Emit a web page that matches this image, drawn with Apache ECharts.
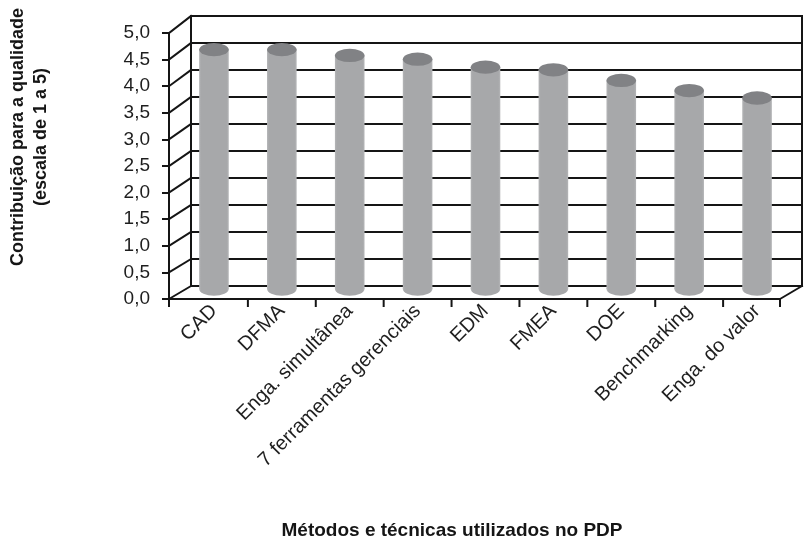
<!DOCTYPE html>
<html>
<head>
<meta charset="utf-8">
<script src="https://cdn.jsdelivr.net/npm/echarts@6/dist/echarts.min.js"></script>
<style>
  html, body { margin: 0; padding: 0; background: #ffffff; }
  #chart { width: 806px; height: 551px; }
</style>
</head>
<body>
<div id="chart"></div>
<script>
// Categories and their average contribution to quality (scale 1 to 5)
const categories = [
  'CAD', 'DFMA', 'Enga. simultânea', '7 ferramentas gerenciais',
  'EDM', 'FMEA', 'DOE', 'Benchmarking', 'Enga. do valor'
];
const contribution = [4.50, 4.50, 4.39, 4.32, 4.17, 4.12, 3.92, 3.73, 3.59];

// Value axis ticks
const yMin = 0;
const yMax = 5;
const yStep = 0.5;
const yTickValues = [0, 0.5, 1, 1.5, 2, 2.5, 3, 3.5, 4, 4.5, 5];

const yTitle = 'Contribuição para a qualidade\n(escala de 1 a 5)';
const xTitle = 'Métodos e técnicas utilizados no PDP';

// Oblique 3D box: the grid is the plane through the cylinder axes,
// the front plane sits HALF_DX to the left, the back wall HALF_DX to the right.
const HALF_DX = 11;
const BACK_DY = -13;      // back wall floor line relative to the front floor line
const BACK_SCALE = 1.015; // back wall is marginally taller (perspective)
const CYL_DY = -10;       // cylinder bases sit behind the front edge
const LINE = '#151515';
const FONT = '"Liberation Sans", Arial, Helvetica, sans-serif';
const NARROW = '"Liberation Sans Narrow", "Arial Narrow", "Liberation Sans", Arial, sans-serif';

const chart = echarts.init(document.getElementById('chart'), null, { renderer: 'canvas' });

function fy(api, v) { return api.coord([0, v])[1]; }
function by(api, v) {
  const f0 = fy(api, 0);
  return f0 + BACK_DY - (f0 - fy(api, v)) * BACK_SCALE;
}
function bandEdges(api) {
  const bw = api.size([1, 0])[0];
  const left = api.coord([0, 0])[0] - bw / 2;
  const edges = [];
  for (let k = 0; k <= categories.length; k++) edges.push(left + k * bw);
  return edges;
}
function seg(x1, y1, x2, y2, w) {
  return {
    type: 'line',
    shape: { x1: x1, y1: y1, x2: x2, y2: y2 },
    style: { stroke: LINE, lineWidth: w || 2, lineCap: 'square' }
  };
}

// Back wall, its grid lines and the left-side diagonals
function renderBackFrame(params, api) {
  const edges = bandEdges(api);
  const fxL = edges[0] - HALF_DX;
  const fxR = edges[edges.length - 1] - HALF_DX;
  const bxL = edges[0] + HALF_DX;
  const bxR = edges[edges.length - 1] + HALF_DX;
  const children = [];
  yTickValues.forEach(function (v) {
    children.push(seg(bxL, by(api, v), bxR, by(api, v)));
    children.push(seg(fxL, fy(api, v), bxL, by(api, v)));
  });
  children.push(seg(bxL, by(api, yMin), bxL, by(api, yMax)));
  children.push(seg(bxR, by(api, yMin), bxR, by(api, yMax)));
  children.push(seg(fxR, fy(api, yMin), bxR, by(api, yMin)));
  return { type: 'group', children: children };
}

// Front floor edge with its tick marks
function renderFrontFrame(params, api) {
  const edges = bandEdges(api);
  const fxL = edges[0] - HALF_DX;
  const fxR = edges[edges.length - 1] - HALF_DX;
  const y0 = fy(api, yMin);
  const children = [seg(fxL, y0, fxR, y0)];
  const tickXs = [fxL].concat(edges.slice(1, edges.length - 1), [fxR]);
  tickXs.forEach(function (x) { children.push(seg(x, y0, x, y0 + 7)); });
  return { type: 'group', children: children };
}

const bodyFill = {
  type: 'linear', x: 0, y: 0, x2: 1, y2: 0,
  colorStops: [
    { offset: 0, color: '#b4b5b7' },
    { offset: 0.07, color: '#a7a8aa' },
    { offset: 0.93, color: '#a7a8aa' },
    { offset: 1, color: '#b4b5b7' }
  ]
};

function renderCylinder(params, api) {
  const i = api.value(0);
  const v = api.value(1);
  const top = api.coord([i, v]);
  const base = api.coord([i, yMin]);
  const bw = api.size([1, 0])[0];
  const rx = bw * 0.218;
  const ry = rx * 0.45;
  const cx = top[0];
  const ty = top[1] + CYL_DY;
  const byy = base[1] + CYL_DY;
  return {
    type: 'group',
    children: [
      {
        type: 'circle', shape: { cx: cx, cy: byy, r: rx },
        originX: cx, originY: byy, scaleY: ry / rx,
        style: { fill: bodyFill }
      },
      {
        type: 'rect', shape: { x: cx - rx, y: ty, width: rx * 2, height: byy - ty },
        style: { fill: bodyFill }
      },
      {
        type: 'circle', shape: { cx: cx, cy: ty, r: rx },
        originX: cx, originY: ty, scaleY: ry / rx,
        style: { fill: '#818285' }
      }
    ]
  };
}

const option = {
  animation: false,
  backgroundColor: '#ffffff',
  grid: {
    left: 180, top: 33, width: 611, height: 266,
    containLabel: false,
    outerBoundsMode: 'none'
  },
  xAxis: {
    type: 'category',
    data: categories,
    boundaryGap: true,
    axisLine: { show: false },
    axisTick: { show: false },
    splitLine: { show: false },
    axisLabel: {
      interval: 0,
      hideOverlap: false,
      rotate: 45,
      margin: 9,
      color: '#1e1e1e',
      fontFamily: NARROW,
      fontSize: 20
    }
  },
  yAxis: {
    type: 'value',
    min: yMin,
    max: yMax,
    interval: yStep,
    offset: HALF_DX,
    splitLine: { show: false },
    axisLine: { show: true, lineStyle: { color: LINE, width: 2 } },
    axisTick: { show: true, length: 7, lineStyle: { color: LINE, width: 2 } },
    axisLabel: {
      margin: 19,
      color: '#1e1e1e',
      fontFamily: FONT,
      fontSize: 19,
      formatter: function (v) { return v.toFixed(1).replace('.', ','); }
    }
  },
  graphic: [
    {
      type: 'text',
      x: 30,
      y: 137,
      rotation: Math.PI / 2,
      style: {
        text: yTitle,
        fill: '#151515',
        font: 'bold 18px ' + FONT,
        lineHeight: 23,
        textAlign: 'center',
        textVerticalAlign: 'middle'
      }
    },
    {
      type: 'text',
      x: 452,
      y: 531,
      style: {
        text: xTitle,
        fill: '#151515',
        font: 'bold 19px ' + FONT,
        textAlign: 'center',
        textVerticalAlign: 'middle'
      }
    }
  ],
  series: [
    {
      type: 'custom',
      name: 'frame-back',
      z: 1,
      silent: true,
      renderItem: renderBackFrame,
      data: [[0, 0]]
    },
    {
      type: 'custom',
      name: 'Contribuição',
      z: 2,
      renderItem: renderCylinder,
      encode: { x: 0, y: 1 },
      data: categories.map(function (c, i) { return [i, contribution[i]]; })
    },
    {
      type: 'custom',
      name: 'frame-front',
      z: 3,
      silent: true,
      renderItem: renderFrontFrame,
      data: [[0, 0]]
    }
  ]
};

chart.setOption(option);
</script>
</body>
</html>
